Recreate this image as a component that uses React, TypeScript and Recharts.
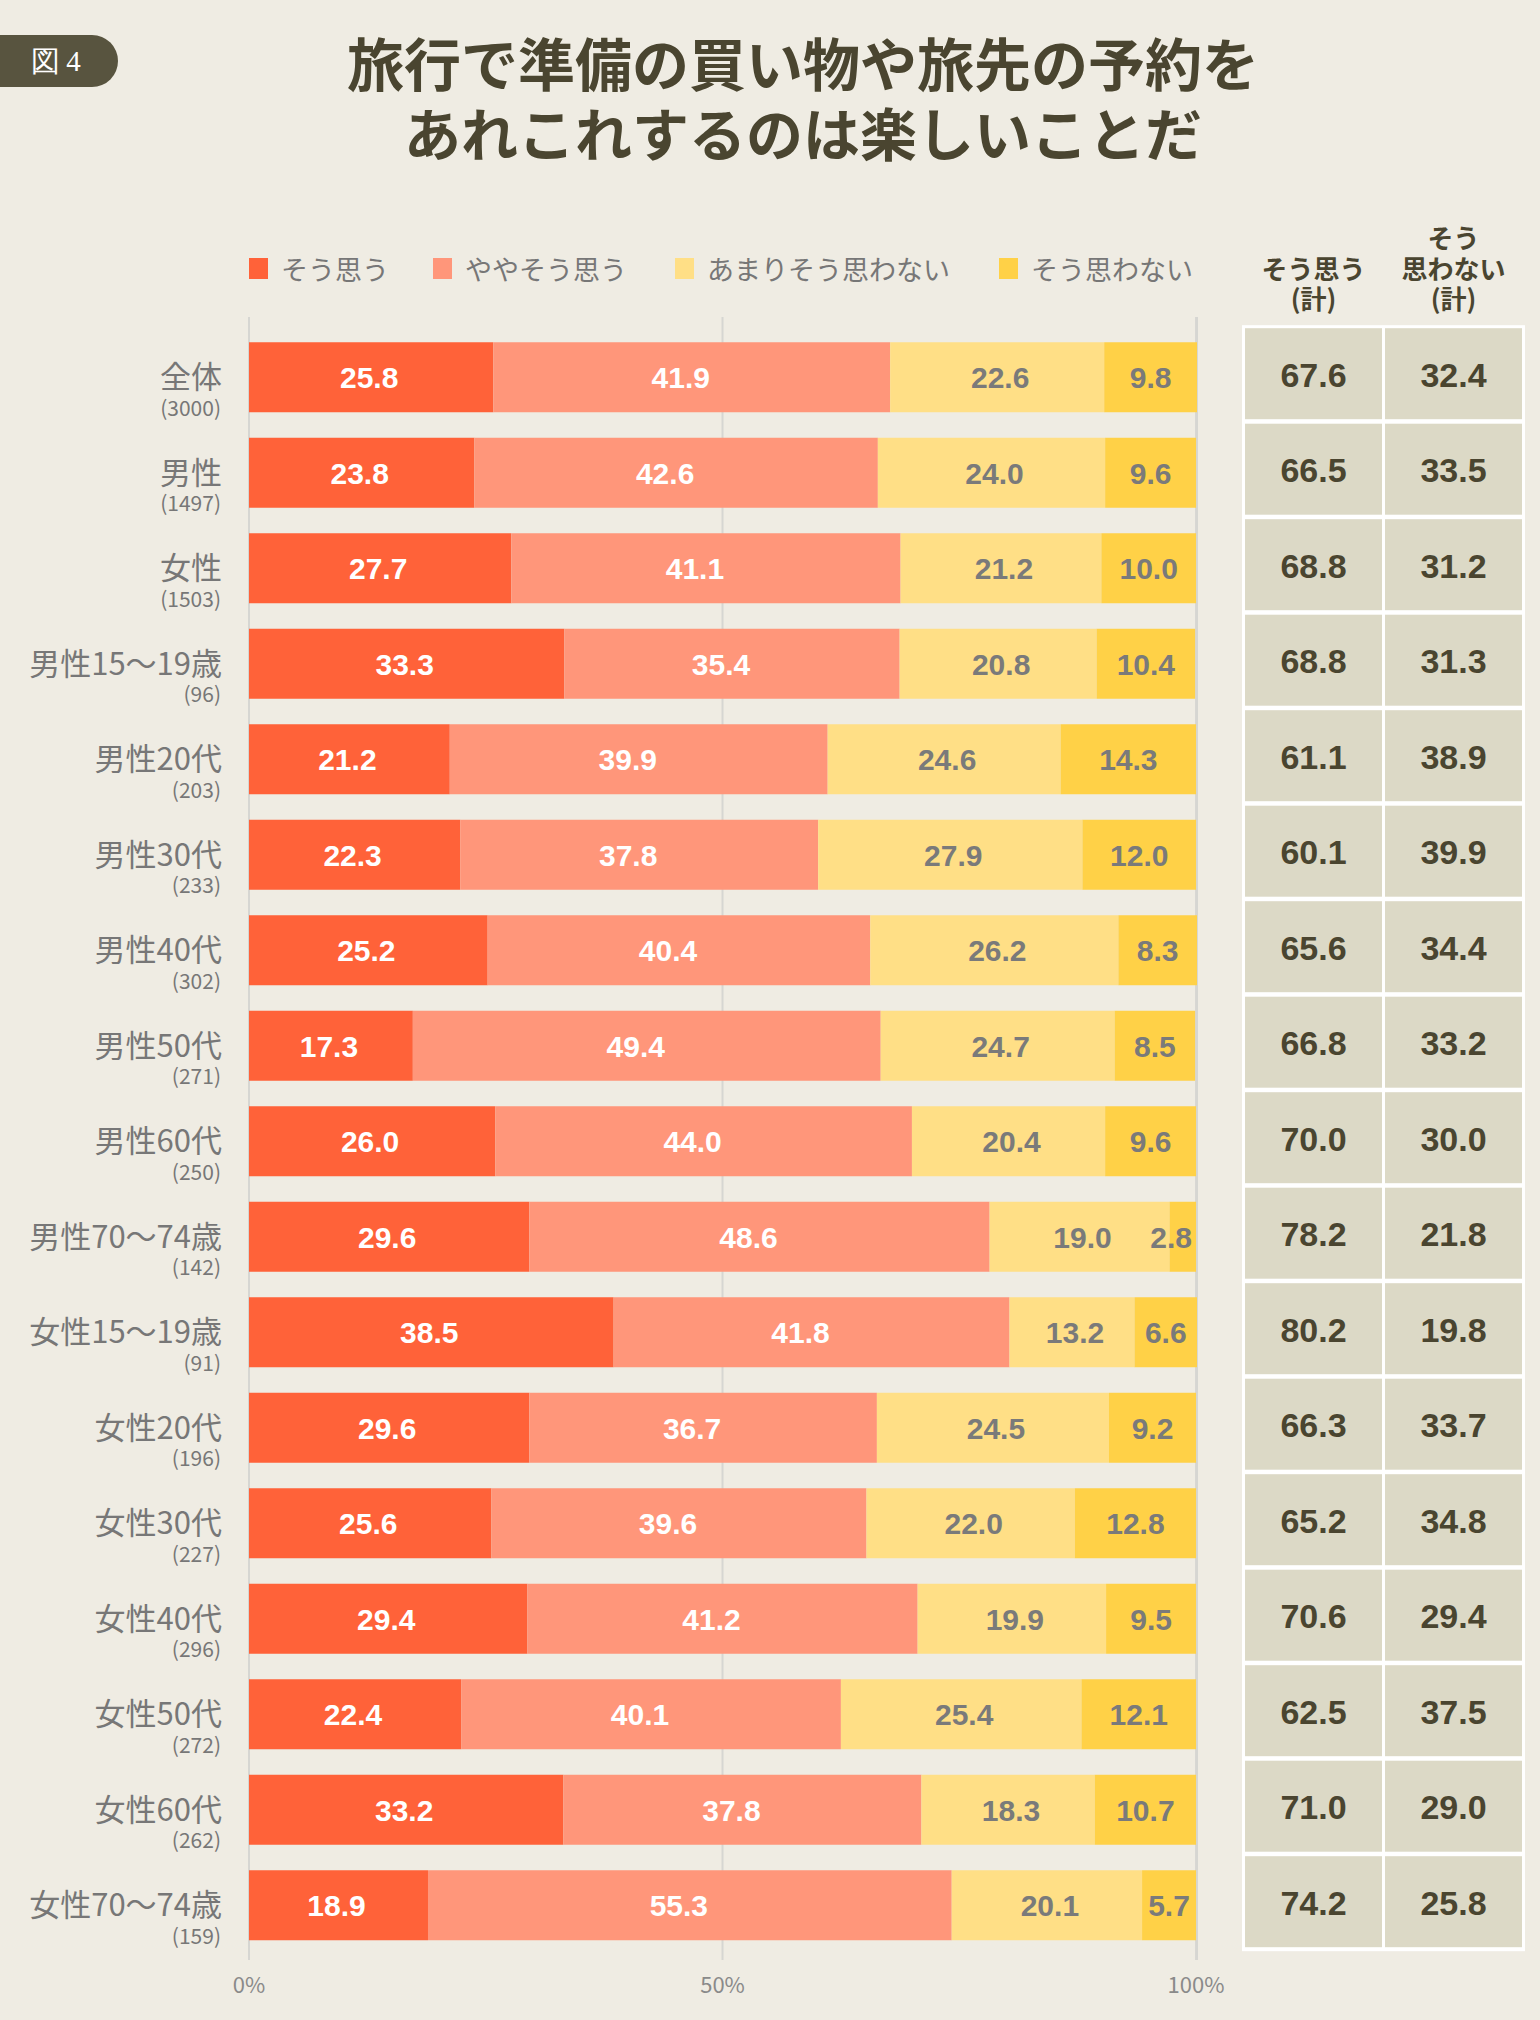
import React from 'react';
import { BarChart, Bar, XAxis, YAxis, CartesianGrid, LabelList } from 'recharts';

// 回答区分ごとの割合（%）
const categories = [
  '全体', '男性', '女性',
  '男性15〜19歳', '男性20代', '男性30代', '男性40代', '男性50代', '男性60代', '男性70〜74歳',
  '女性15〜19歳', '女性20代', '女性30代', '女性40代', '女性50代', '女性60代', '女性70〜74歳',
];
const sampleSizes = [3000, 1497, 1503, 96, 203, 233, 302, 271, 250, 142, 91, 196, 227, 296, 272, 262, 159];
const agree = [25.8, 23.8, 27.7, 33.3, 21.2, 22.3, 25.2, 17.3, 26.0, 29.6, 38.5, 29.6, 25.6, 29.4, 22.4, 33.2, 18.9];
const somewhatAgree = [41.9, 42.6, 41.1, 35.4, 39.9, 37.8, 40.4, 49.4, 44.0, 48.6, 41.8, 36.7, 39.6, 41.2, 40.1, 37.8, 55.3];
const somewhatDisagree = [22.6, 24.0, 21.2, 20.8, 24.6, 27.9, 26.2, 24.7, 20.4, 19.0, 13.2, 24.5, 22.0, 19.9, 25.4, 18.3, 20.1];
const disagree = [9.8, 9.6, 10.0, 10.4, 14.3, 12.0, 8.3, 8.5, 9.6, 2.8, 6.6, 9.2, 12.8, 9.5, 12.1, 10.7, 5.7];
const agreeTotal = [67.6, 66.5, 68.8, 68.8, 61.1, 60.1, 65.6, 66.8, 70.0, 78.2, 80.2, 66.3, 65.2, 70.6, 62.5, 71.0, 74.2];
const disagreeTotal = [32.4, 33.5, 31.2, 31.3, 38.9, 39.9, 34.4, 33.2, 30.0, 21.8, 19.8, 33.7, 34.8, 29.4, 37.5, 29.0, 25.8];

const seriesNames = ['そう思う', 'ややそう思う', 'あまりそう思わない', 'そう思わない'];
const seriesKeys = ['agree', 'somewhatAgree', 'somewhatDisagree', 'disagree'];
const seriesColors = ['#FF6239', '#FF967A', '#FFDF86', '#FFD147'];
const labelColors = ['#FFFFFF', '#FFFFFF', '#7A7A7A', '#7A7A7A'];
const labelShift = [-2, -11, 3, 0];
const xTicks = [0, 50, 100];

const rows = categories.map((name, i) => ({
  name,
  agree: agree[i],
  somewhatAgree: somewhatAgree[i],
  somewhatDisagree: somewhatDisagree[i],
  disagree: disagree[i],
}));

const JP = "'Noto Sans CJK JP', 'Noto Sans', sans-serif";
const NUM = "'Liberation Sans', Arial, 'Noto Sans', sans-serif";
const BG = '#EFECE3';
const INK = '#4A4530';
const GREY = '#777777';
const ROW = 95.5;

const textWidth = (s: string, size: number) =>
  s.split('').reduce((w, c) => w + (c === '.' ? 0.278 : 0.556) * size, 0);

const makeBarLabel = (color: string, shift: number) => (props: any) => {
  const x = Number(props.x);
  const y = Number(props.y);
  const width = Number(props.width);
  const height = Number(props.height);
  const txt = Number(props.value).toFixed(1);
  const tw = textWidth(txt, 30);
  const cx = Math.min(x + width / 2 + shift, x + width - tw / 2 - 4);
  return (
    <text
      x={cx}
      y={y + height / 2 + 11}
      textAnchor="middle"
      fill={color}
      fontSize={30}
      fontWeight="bold"
      fontFamily={NUM}
    >
      {txt}
    </text>
  );
};

// 左の属性ラベルと、右側の合計表（行ごと）
const CategoryTick = (props: any) => {
  const { y, payload } = props;
  const i = categories.indexOf(payload.value);
  const rowTop = y - 4 - ROW / 2;
  const cellTop = rowTop + 3;
  const cellH = 91;
  const cellMid = cellTop + cellH / 2;
  return (
    <g>
      <text x={222} y={y - 2} textAnchor="end" dominantBaseline="central" fontSize={31} fill={GREY} fontFamily={JP}>
        {payload.value}
      </text>
      <text x={221} y={y + 30} textAnchor="end" dominantBaseline="central" fontSize={21} fill={GREY} fontFamily={JP}>
        ({sampleSizes[i]})
      </text>
      <rect x={1242} y={rowTop} width={283} height={ROW + 2.5} fill="#FFFFFF" />
      <rect x={1245} y={cellTop} width={137} height={cellH} fill="#DCD9C6" />
      <rect x={1385} y={cellTop} width={137} height={cellH} fill="#DCD9C6" />
      <text x={1313.5} y={cellMid + 13} textAnchor="middle" fontSize={34} fontWeight="bold" fill={INK} fontFamily={NUM}>
        {agreeTotal[i].toFixed(1)}
      </text>
      <text x={1453.5} y={cellMid + 13} textAnchor="middle" fontSize={34} fontWeight="bold" fill={INK} fontFamily={NUM}>
        {disagreeTotal[i].toFixed(1)}
      </text>
    </g>
  );
};

const PercentTick = (props: any) => (
  <text x={props.x} y={Number(props.y) + 23} textAnchor="middle" dominantBaseline="central" fontSize={22} fill="#8A8A8A" fontFamily={JP}>
    {props.payload.value}%
  </text>
);

const legendX = [249, 433, 675, 999];

export default function App() {
  return (
    <div
      style={{
        position: 'absolute',
        left: 0,
        top: 0,
        width: 1540,
        height: 2020,
        background: BG,
        overflow: 'hidden',
        fontFamily: JP,
      }}
    >
      {/* 図番号 */}
      <div
        style={{
          position: 'absolute',
          left: 0,
          top: 35,
          width: 118,
          height: 52,
          background: '#58543F',
          borderRadius: '0 26px 26px 0',
          color: '#FFFFFF',
          fontFamily: "'Liberation Serif', 'DejaVu Serif', serif",
          fontSize: 29,
          lineHeight: '52px',
          textAlign: 'center',
          letterSpacing: 6,
        }}
      >
        図4
      </div>

      {/* タイトル */}
      <div
        style={{
          position: 'absolute',
          left: 66,
          top: 26,
          width: 1474,
          textAlign: 'center',
          color: INK,
          fontSize: 57,
          fontWeight: 700,
          lineHeight: '70px',
        }}
      >
        旅行で準備の買い物や旅先の予約を
        <br />
        あれこれするのは楽しいことだ
      </div>

      {/* 凡例 */}
      {seriesNames.map((name, k) => (
        <div key={name}>
          <div
            style={{
              position: 'absolute',
              left: legendX[k],
              top: 258,
              width: 19,
              height: 21,
              background: seriesColors[k],
            }}
          />
          <div
            style={{
              position: 'absolute',
              left: legendX[k] + 32,
              top: 250,
              height: 38,
              lineHeight: '38px',
              fontSize: 27,
              color: GREY,
              whiteSpace: 'nowrap',
            }}
          >
            {name}
          </div>
        </div>
      ))}

      {/* 合計表の見出し */}
      {[
        { cx: 1313.5, lines: ['', 'そう思う', '(計)'] },
        { cx: 1453.5, lines: ['そう', '思わない', '(計)'] },
      ].map((h, k) => (
        <div key={k}>
          {h.lines.map((t, j) => (
            <div
              key={j}
              style={{
                position: 'absolute',
                left: h.cx - 80,
                width: 160,
                top: 237 + j * 30.5 - 17,
                height: 34,
                lineHeight: '34px',
                textAlign: 'center',
                fontSize: 26,
                fontWeight: 700,
                color: INK,
              }}
            >
              {t}
            </div>
          ))}
        </div>
      ))}

      <div style={{ position: 'absolute', left: 0, top: 0 }}>
        <BarChart
          width={1540}
          height={2020}
          data={rows}
          layout="vertical"
          margin={{ top: 317, right: 343, bottom: 30, left: 0 }}
        >
          <CartesianGrid horizontal={false} vertical={true} stroke="#D6D6D2" strokeWidth={2} />
          <XAxis
            type="number"
            domain={[0, 100]}
            ticks={xTicks}
            axisLine={false}
            tickLine={false}
            tickSize={0}
            tickMargin={0}
            height={30}
            tick={<PercentTick />}
            interval={0}
          />
          <YAxis
            type="category"
            dataKey="name"
            width={249}
            axisLine={false}
            tickLine={false}
            interval={0}
            padding={{ top: 12.2, bottom: 7.3 }}
            tick={<CategoryTick />}
          />
          {seriesKeys.map((key, k) => (
            <Bar
              key={key}
              dataKey={key}
              name={seriesNames[k]}
              stackId="total"
              fill={seriesColors[k]}
              barSize={70}
              isAnimationActive={false}
            >
              <LabelList dataKey={key} content={makeBarLabel(labelColors[k], labelShift[k])} />
            </Bar>
          ))}
        </BarChart>
      </div>
    </div>
  );
}
